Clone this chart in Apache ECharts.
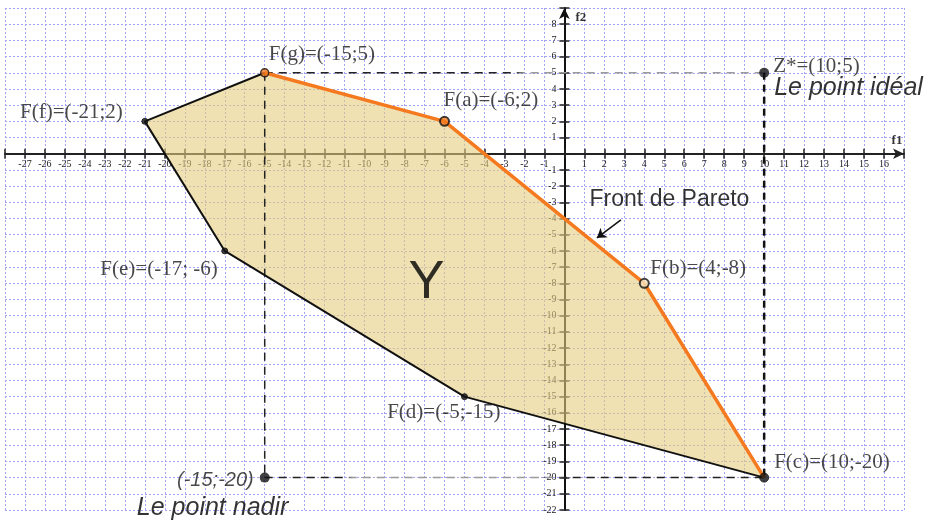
<!DOCTYPE html>
<html>
<head>
<meta charset="utf-8">
<script src="https://cdn.jsdelivr.net/npm/echarts@6/dist/echarts.min.js"></script>
<style>
    html, body { margin: 0; padding: 0; background: #fff; }
    #chart { width: 932px; height: 527px; }
</style>
</head>
<body>
<div id="chart"></div>
<script>
    //data
    var pointNames = ['g', 'a', 'b', 'c', 'd', 'e', 'f'];
    var f1Values = [-15, -6, 4, 10, -5, -17, -21];
    var f2Values = [5, 2, -8, -20, -15, -6, 2];
    var pointLabels = ['F(g)=(-15;5)', 'F(a)=(-6;2)', 'F(b)=(4;-8)', 'F(c)=(10;-20)', 'F(d)=(-5;-15)', 'F(e)=(-17; -6)', 'F(f)=(-21;2)'];
    var paretoOrder = ['g', 'a', 'b', 'c'];
    var hullOrder = ['g', 'f', 'e', 'd', 'c'];
    var polygonOrder = ['g', 'a', 'b', 'c', 'd', 'e', 'f'];
    var idealPoint = [10, 5];
    var nadirPoint = [-15, -20];
    var idealLabel = 'Z*=(10;5)';
    var nadirLabel = '(-15;-20)';
    var xRange = [-28, 17];
    var yRange = [-22, 9];
    var xLabelRange = [-27, 16];
    var yLabelRange = [-22, 8];

    //texts
    var regionName = 'Y';
    var frontName = 'Front de Pareto';
    var idealName = 'Le point idéal';
    var nadirName = 'Le point nadir';
    var xName = 'f1';
    var yName = 'f2';

    function pt(name) {
        var i = pointNames.indexOf(name);
        return [f1Values[i], f2Values[i]];
    }

    //style
    var SERIF = 'Liberation Serif';
    var SANS = 'Liberation Sans';
    var ORANGE = '#f57a1f';
    var INK = '#111';
    var TEXT = '#1a1a1a';

    //plot box, in pixels; the zero lines fall at the same place in every grid
    var BOX = {left: 5, top: 8, width: 899, height: 502};
    var zeroX = BOX.left + BOX.width * (0 - xRange[0]) / (xRange[1] - xRange[0]);
    var zeroY = BOX.top + BOX.height * (yRange[1] - 0) / (yRange[1] - yRange[0]);

    //label placement (pixels, relative to the point)
    var labelPlace = {
        g: {align: 'left', offset: [4, -18]},
        a: {align: 'left', offset: [-1, -21]},
        b: {align: 'left', offset: [6, -15]},
        c: {align: 'left', offset: [10, -15]},
        d: {align: 'right', offset: [36, 16]},
        e: {align: 'right', offset: [-7, 19]},
        f: {align: 'right', offset: [-22, -9]}
    };
    var markerStyle = {
        g: {size: 8, color: ORANGE, border: INK, bw: 1.5},
        a: {size: 9, color: ORANGE, border: INK, bw: 2},
        b: {size: 9, color: '#f6e6c0', border: INK, bw: 2},
        c: {size: 9, color: INK, border: INK, bw: 1},
        d: {size: 6, color: INK, border: INK, bw: 1},
        e: {size: 6, color: INK, border: INK, bw: 1},
        f: {size: 6, color: INK, border: INK, bw: 1}
    };

    //text anchors in data units
    var textLayout = [
        {text: regionName, at: [-6.9, -8], font: SANS, size: 54, style: 'normal', align: 'center', weight: 'normal'},
        {text: frontName, at: [5.26, -2.86], font: SANS, size: 23, style: 'normal', align: 'center', weight: 'normal'},
        {text: idealName, at: [10.5, 4.06], font: SANS, size: 25, style: 'italic', align: 'left', weight: 'normal'},
        {text: nadirName, at: [-21.4, -21.87], font: SANS, size: 25, style: 'italic', align: 'left', weight: 'normal'},
        {text: xName, at: [16.65, 0.78], font: SERIF, size: 13, style: 'normal', align: 'center', weight: 'bold'},
        {text: yName, at: [0.83, 8.38], font: SERIF, size: 13, style: 'normal', align: 'center', weight: 'bold'}
    ];
    var arrowFrom = [2.83, -4.09];
    var arrowTo = [1.63, -5.2];

    var gridLine = {show: true, lineStyle: {color: '#a4a4f4', type: [2, 2], width: 1}};
    var tick = {length: 5, lineStyle: {color: '#222', width: 1.5}};

    function xFmt(v) {
        return (v >= xLabelRange[0] && v <= xLabelRange[1] && v !== 0) ? String(v) : '';
    }
    function yFmt(v) {
        return (v >= yLabelRange[0] && v <= yLabelRange[1] && v !== 0) ? String(v) : '';
    }

    function textStyle(extra) {
        var s = {show: true, position: 'inside', verticalAlign: 'middle', color: TEXT, textBorderWidth: 0, textShadowBlur: 0};
        for (var k in extra) {
            s[k] = extra[k];
        }
        return s;
    }

    var myChart = echarts.init(document.getElementById('chart'));

    var pointData = pointNames.map(function (n, i) {
        var m = markerStyle[n];
        var p = labelPlace[n];
        return {
            value: [f1Values[i], f2Values[i]],
            symbolSize: m.size,
            itemStyle: {color: m.color, borderColor: m.border, borderWidth: m.bw},
            label: textStyle({formatter: pointLabels[i], align: p.align, offset: p.offset, fontFamily: SERIF, fontSize: 21})
        };
    });

    var textData = textLayout.map(function (t) {
        return {
            value: t.at,
            label: textStyle({
                formatter: t.text, align: t.align, color: '#000',
                fontFamily: t.font, fontSize: t.size, fontStyle: t.style, fontWeight: t.weight
            })
        };
    });

    function dashed(data, color, width, dash, z) {
        return {
            type: 'line', data: data, symbol: 'none', z: z || 3, silent: true,
            lineStyle: {color: color, width: width, type: dash}
        };
    }

    function hiddenAxis(gridIndex) {
        return {type: 'value', gridIndex: gridIndex, min: 0, max: 1, show: false};
    }

    var option = {
        animation: false,
        grid: [
            {left: BOX.left, top: BOX.top, width: BOX.width, height: BOX.height, outerBoundsMode: 'none'},
            //x tick labels: the bottom edge of this grid sits on f2 = 0
            {left: BOX.left, top: BOX.top, width: BOX.width, height: zeroY - BOX.top, outerBoundsMode: 'none'},
            //y tick labels: the left edge of this grid sits on f1 = 0
            {left: zeroX, top: BOX.top, width: 50, height: BOX.height, outerBoundsMode: 'none'}
        ],
        xAxis: [{
            type: 'value', min: xRange[0], max: xRange[1], interval: 1, position: 'bottom',
            axisLine: {onZero: true, symbol: ['none', 'arrow'], symbolSize: [8, 11], lineStyle: {color: '#222', width: 2}},
            axisTick: tick,
            axisLabel: {show: false},
            splitLine: gridLine
        }, {
            type: 'value', min: xRange[0], max: xRange[1], interval: 1, position: 'top',
            axisLine: {onZero: true, show: false},
            axisTick: tick,
            axisLabel: {show: false},
            splitLine: {show: false}
        }, {
            type: 'value', gridIndex: 1, min: xRange[0], max: xRange[1], interval: 1, position: 'bottom',
            axisLine: {show: false, onZero: false}, axisTick: {show: false}, splitLine: {show: false},
            axisLabel: {margin: 6, fontFamily: SERIF, fontSize: 10, color: '#222', formatter: xFmt}
        }, hiddenAxis(2)],
        yAxis: [{
            type: 'value', min: yRange[0], max: yRange[1], interval: 1, position: 'left',
            axisLine: {onZero: true, symbol: ['none', 'arrow'], symbolSize: [8, 11], lineStyle: {color: '#111', width: 2}},
            axisTick: tick,
            axisLabel: {show: false},
            splitLine: gridLine
        }, {
            type: 'value', min: yRange[0], max: yRange[1], interval: 1, position: 'right',
            axisLine: {onZero: true, show: false},
            axisTick: tick,
            axisLabel: {show: false},
            splitLine: {show: false}
        }, hiddenAxis(1), {
            type: 'value', gridIndex: 2, min: yRange[0], max: yRange[1], interval: 1, position: 'left',
            axisLine: {show: false, onZero: false}, axisTick: {show: false}, splitLine: {show: false},
            axisLabel: {margin: 8, fontFamily: SERIF, fontSize: 10, color: '#222', formatter: yFmt}
        }],
        series: [
            {
                type: 'custom', z: 1, silent: true,
                data: polygonOrder.map(pt),
                renderItem: function (params, api) {
                    if (params.dataIndex !== 0) {
                        return;
                    }
                    var pts = polygonOrder.map(function (n) { return api.coord(pt(n)); });
                    return {type: 'polygon', shape: {points: pts}, style: {fill: 'rgba(228,205,125,0.6)'}};
                }
            },
            dashed([[nadirPoint[0], idealPoint[1]], idealPoint], {
                type: 'linear', x: 0, y: 0, x2: 1, y2: 0,
                colorStops: [{offset: 0, color: '#222'}, {offset: 0.5, color: '#222'}, {offset: 0.52, color: '#9a9a9a'}, {offset: 1, color: '#9a9a9a'}]
            }, 1.5, [8, 6]),
            dashed([nadirPoint, [idealPoint[0], nadirPoint[1]]], {
                type: 'linear', x: 0, y: 0, x2: 1, y2: 0,
                colorStops: [{offset: 0, color: '#222'}, {offset: 0.16, color: '#222'}, {offset: 0.18, color: '#9a9a9a'}, {offset: 0.58, color: '#9a9a9a'}, {offset: 0.6, color: '#222'}, {offset: 1, color: '#222'}]
            }, 1.5, [8, 6]),
            dashed([[nadirPoint[0], idealPoint[1]], nadirPoint], '#222', 1.5, [8, 6]),
            dashed([idealPoint, [idealPoint[0], nadirPoint[1]]], '#111', 2.5, [7, 5]),
            {
                type: 'line', data: hullOrder.map(pt), symbol: 'none', z: 4, silent: true,
                lineStyle: {color: INK, width: 2}
            },
            {
                type: 'line', data: paretoOrder.map(pt), symbol: 'none', z: 5, silent: true,
                lineStyle: {color: ORANGE, width: 3.5}
            },
            {
                type: 'scatter', z: 6, data: pointData, silent: true
            },
            {
                type: 'scatter', z: 6, silent: true,
                symbolSize: 10, itemStyle: {color: INK},
                data: [{
                    value: idealPoint,
                    label: textStyle({formatter: idealLabel, align: 'left', offset: [9, -6], fontFamily: SERIF, fontSize: 21})
                }, {
                    value: nadirPoint,
                    label: textStyle({formatter: nadirLabel, align: 'right', offset: [-11, 3], fontFamily: SANS, fontStyle: 'italic', fontSize: 20})
                }]
            },
            {
                type: 'scatter', z: 7, silent: true, symbol: 'circle', symbolSize: 1,
                itemStyle: {color: 'rgba(0,0,0,0)'},
                data: textData,
                markLine: {
                    silent: true, symbol: ['none', 'arrow'], symbolSize: 9,
                    lineStyle: {color: INK, width: 1.5, type: 'solid'},
                    label: {show: false},
                    data: [[{coord: arrowFrom}, {coord: arrowTo}]]
                }
            }
        ]
    };
    // 使用刚指定的配置项和数据显示图表。
    myChart.setOption(option);
</script>
</body>
</html>
